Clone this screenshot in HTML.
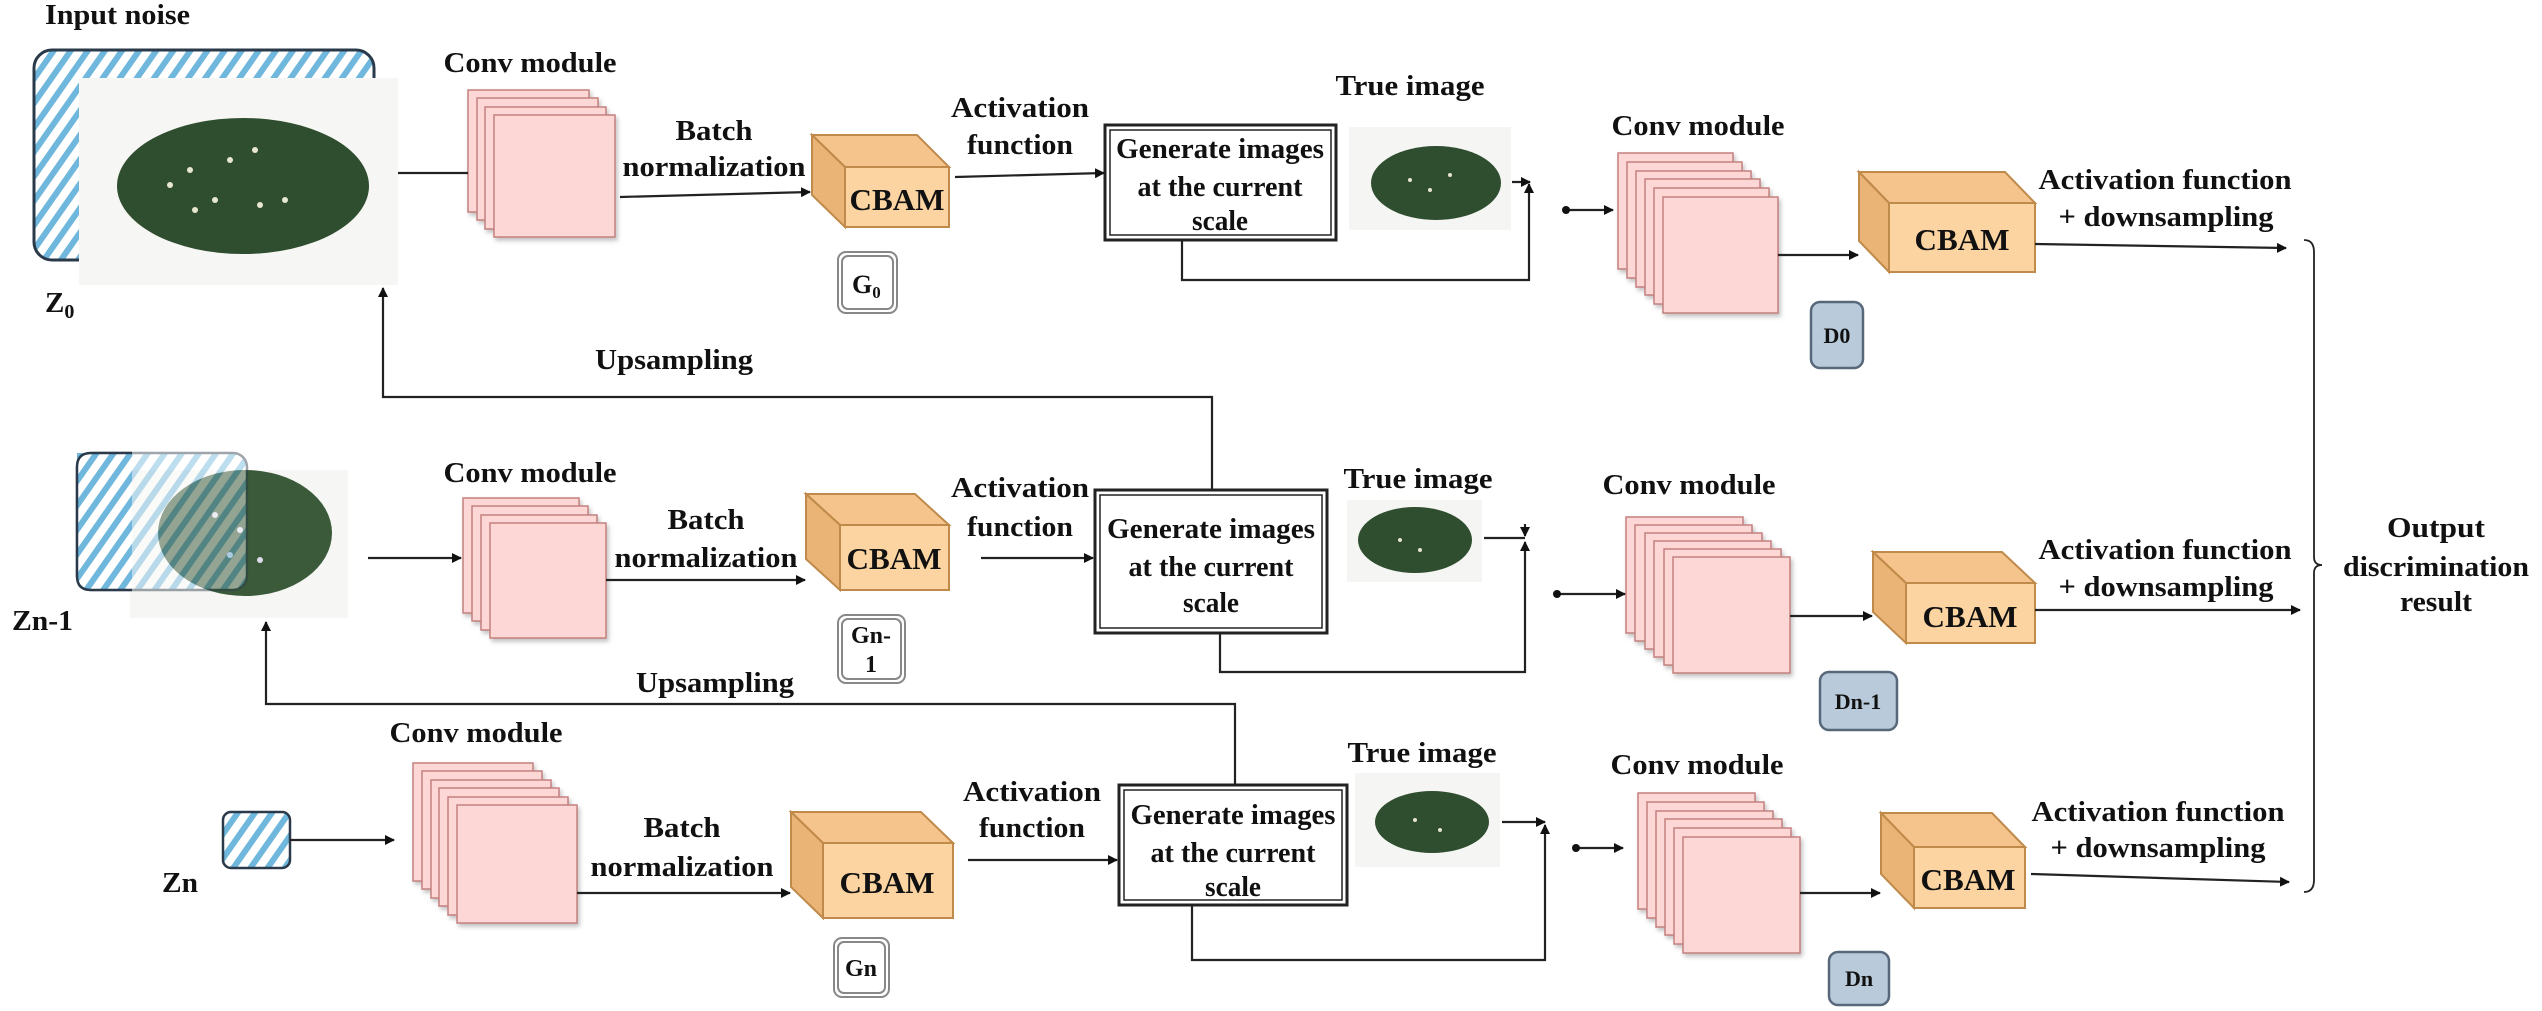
<!DOCTYPE html>
<html><head><meta charset="utf-8"><style>
html,body{margin:0;padding:0;background:#fff}
svg{display:block}
text{font-family:"Liberation Serif",serif;font-weight:bold;fill:#111}
</style></head><body>
<svg width="2542" height="1011" viewBox="0 0 2542 1011" xmlns="http://www.w3.org/2000/svg">
<defs>
<pattern id="hat" width="14" height="14" patternUnits="userSpaceOnUse" patternTransform="rotate(35)">
<rect width="14" height="14" fill="#fff"/><rect width="6" height="14" fill="#6fb7dc"/></pattern>
<marker id="ar" markerWidth="10" markerHeight="10" refX="9" refY="5" orient="auto" markerUnits="userSpaceOnUse">
<path d="M0,0 L10,5 L0,10 z" fill="#111"/></marker>
<filter id="sh"><feDropShadow dx="2" dy="3" stdDeviation="2" flood-color="#999" flood-opacity="0.6"/></filter>
</defs>

<!-- ===== Inputs ===== -->
<rect x="34" y="50" width="340" height="210" rx="18" fill="url(#hat)" stroke="#2a3a4a" stroke-width="3"/>
<rect x="79" y="78" width="319" height="207" fill="#f6f6f4"/>
<ellipse cx="243" cy="186" rx="126" ry="68" fill="#2f4d2f"/>
<g fill="#e8e8d0"><circle cx="190" cy="170" r="3"/><circle cx="230" cy="160" r="3"/><circle cx="255" cy="150" r="3"/><circle cx="215" cy="200" r="3"/><circle cx="260" cy="205" r="3"/><circle cx="285" cy="200" r="3"/><circle cx="170" cy="185" r="3"/><circle cx="195" cy="210" r="3"/></g>
<text x="45" y="24" font-size="28" textLength="145" lengthAdjust="spacingAndGlyphs">Input noise</text>
<text x="45" y="312" font-size="29">Z<tspan font-size="20" dy="6">0</tspan></text>

<rect x="130" y="470" width="218" height="148" fill="#f6f6f4"/>
<ellipse cx="245" cy="533" rx="87" ry="63" fill="#3a5a3a"/>
<g fill="#dde"><circle cx="215" cy="515" r="3"/><circle cx="240" cy="530" r="3"/><circle cx="260" cy="560" r="3"/><circle cx="230" cy="555" r="3"/></g>
<rect x="77" y="453" width="170" height="137" rx="14" fill="url(#hat)" stroke="#2a3a4a" stroke-width="2.5" opacity="0.45"/>
<rect x="77" y="453" width="55" height="137" fill="url(#hat)"/>
<path d="M132,453 L91,453 Q77,453 77,467 L77,576 Q77,590 91,590 L132,590" fill="none" stroke="#2a3a4a" stroke-width="2.5"/>
<text x="12" y="630" font-size="28" textLength="61" lengthAdjust="spacingAndGlyphs">Zn-1</text>

<rect x="223" y="812" width="67" height="56" rx="8" fill="url(#hat)" stroke="#2a3a4a" stroke-width="2.5"/>
<text x="162" y="892" font-size="28" textLength="36" lengthAdjust="spacingAndGlyphs">Zn</text>

<!-- ===== stacks ===== -->
<g fill="#fcd7d5" stroke="#c4807e" stroke-width="1.5" filter="url(#sh)">
<rect x="468" y="90" width="121" height="122"/><rect x="477" y="98" width="121" height="122"/><rect x="485" y="107" width="121" height="122"/><rect x="494" y="115" width="121" height="122"/>
<rect x="463" y="498" width="116" height="115"/><rect x="472" y="506" width="116" height="115"/><rect x="481" y="515" width="116" height="115"/><rect x="490" y="523" width="116" height="115"/>
<rect x="413" y="763" width="120" height="118"/><rect x="422" y="771" width="120" height="118"/><rect x="431" y="780" width="120" height="118"/><rect x="439" y="788" width="120" height="118"/><rect x="448" y="797" width="120" height="118"/><rect x="457" y="805" width="120" height="118"/>
<rect x="1618" y="153" width="115" height="116"/><rect x="1627" y="162" width="115" height="116"/><rect x="1636" y="171" width="115" height="116"/><rect x="1645" y="179" width="115" height="116"/><rect x="1654" y="188" width="115" height="116"/><rect x="1663" y="197" width="115" height="116"/>
<rect x="1626" y="517" width="117" height="116"/><rect x="1635" y="525" width="117" height="116"/><rect x="1645" y="533" width="117" height="116"/><rect x="1654" y="541" width="117" height="116"/><rect x="1664" y="549" width="117" height="116"/><rect x="1673" y="557" width="117" height="116"/>
<rect x="1638" y="793" width="117" height="116"/><rect x="1647" y="802" width="117" height="116"/><rect x="1656" y="811" width="117" height="116"/><rect x="1665" y="819" width="117" height="116"/><rect x="1674" y="828" width="117" height="116"/><rect x="1683" y="837" width="117" height="116"/>
</g>

<!-- ===== CBAM cubes ===== -->
<g stroke="#c08a4a" stroke-width="2">
<polygon points="812,135 917,135 949,167 845,167" fill="#f4c48c"/><polygon points="812,135 845,167 845,227 812,195" fill="#e9b476"/><rect x="845" y="167" width="104" height="60" fill="#fbd4a2"/>
<polygon points="806,494 915,494 949,525 840,525" fill="#f4c48c"/><polygon points="806,494 840,525 840,590 806,559" fill="#e9b476"/><rect x="840" y="525" width="109" height="65" fill="#fbd4a2"/>
<polygon points="791,812 921,812 953,843 823,843" fill="#f4c48c"/><polygon points="791,812 823,843 823,918 791,887" fill="#e9b476"/><rect x="823" y="843" width="130" height="75" fill="#fbd4a2"/>
<polygon points="1859,172 2005,172 2035,203 1889,203" fill="#f4c48c"/><polygon points="1859,172 1889,203 1889,272 1859,241" fill="#e9b476"/><rect x="1889" y="203" width="146" height="69" fill="#fbd4a2"/>
<polygon points="1873,552 2002,552 2035,583 1906,583" fill="#f4c48c"/><polygon points="1873,552 1906,583 1906,643 1873,612" fill="#e9b476"/><rect x="1906" y="583" width="129" height="60" fill="#fbd4a2"/>
<polygon points="1881,813 1992,813 2025,847 1914,847" fill="#f4c48c"/><polygon points="1881,813 1914,847 1914,908 1881,874" fill="#e9b476"/><rect x="1914" y="847" width="111" height="61" fill="#fbd4a2"/>
</g>
<g font-size="31" text-anchor="middle" lengthAdjust="spacingAndGlyphs">
<text x="897" y="210" textLength="95" lengthAdjust="spacingAndGlyphs">CBAM</text><text x="894" y="569" textLength="95" lengthAdjust="spacingAndGlyphs">CBAM</text><text x="887" y="893" textLength="95" lengthAdjust="spacingAndGlyphs">CBAM</text>
<text x="1962" y="250" textLength="95" lengthAdjust="spacingAndGlyphs">CBAM</text><text x="1970" y="627" textLength="95" lengthAdjust="spacingAndGlyphs">CBAM</text><text x="1968" y="890" textLength="95" lengthAdjust="spacingAndGlyphs">CBAM</text>
</g>

<!-- ===== G / D labels ===== -->
<g fill="#fff" stroke="#888" stroke-width="2">
<rect x="838" y="252" width="59" height="61" rx="8"/><rect x="842" y="256" width="51" height="53" rx="6"/>
<rect x="838" y="615" width="67" height="68" rx="8"/><rect x="842" y="619" width="59" height="60" rx="6"/>
<rect x="834" y="938" width="55" height="59" rx="8"/><rect x="838" y="942" width="47" height="51" rx="6"/>
</g>
<text x="852" y="293" font-size="26" font-weight="normal">G<tspan font-size="17" dy="5">0</tspan></text>
<text x="871" y="643" font-size="24" font-weight="normal" text-anchor="middle">Gn-</text>
<text x="871" y="672" font-size="24" font-weight="normal" text-anchor="middle">1</text>
<text x="861" y="976" font-size="24" font-weight="normal" text-anchor="middle">Gn</text>
<g fill="#b9cbdb" stroke="#56687a" stroke-width="2.5">
<rect x="1811" y="302" width="52" height="66" rx="9"/><rect x="1820" y="672" width="77" height="58" rx="9"/><rect x="1829" y="952" width="60" height="53" rx="9"/>
</g>
<g font-size="22" text-anchor="middle"><text x="1837" y="343">D0</text><text x="1858" y="709">Dn-1</text><text x="1859" y="986">Dn</text></g>

<!-- ===== Generate boxes ===== -->
<g fill="#fff" stroke="#222">
<rect x="1105" y="125" width="231" height="115" stroke-width="3"/><rect x="1110" y="130" width="221" height="105" stroke-width="1.5"/>
<rect x="1095" y="490" width="232" height="143" stroke-width="3"/><rect x="1100" y="495" width="222" height="133" stroke-width="1.5"/>
<rect x="1119" y="785" width="228" height="120" stroke-width="3"/><rect x="1124" y="790" width="218" height="110" stroke-width="1.5"/>
</g>
<g font-size="28" text-anchor="middle">
<text x="1220" y="158" textLength="208" lengthAdjust="spacingAndGlyphs">Generate images</text><text x="1220" y="196" textLength="165" lengthAdjust="spacingAndGlyphs">at the current</text><text x="1220" y="230" textLength="56" lengthAdjust="spacingAndGlyphs">scale</text>
<text x="1211" y="538" textLength="208" lengthAdjust="spacingAndGlyphs">Generate images</text><text x="1211" y="576" textLength="165" lengthAdjust="spacingAndGlyphs">at the current</text><text x="1211" y="612" textLength="56" lengthAdjust="spacingAndGlyphs">scale</text>
<text x="1233" y="824" textLength="205" lengthAdjust="spacingAndGlyphs">Generate images</text><text x="1233" y="862" textLength="165" lengthAdjust="spacingAndGlyphs">at the current</text><text x="1233" y="896" textLength="56" lengthAdjust="spacingAndGlyphs">scale</text>
</g>

<!-- ===== True images ===== -->
<rect x="1349" y="127" width="162" height="103" fill="#f5f5f3"/><ellipse cx="1436" cy="183" rx="65" ry="37" fill="#2f4d2f"/>
<rect x="1347" y="500" width="135" height="82" fill="#f5f5f3"/><ellipse cx="1415" cy="540" rx="57" ry="33" fill="#2f4d2f"/>
<rect x="1355" y="773" width="145" height="94" fill="#f5f5f3"/><ellipse cx="1432" cy="822" rx="57" ry="31" fill="#2f4d2f"/>
<g fill="#e6e6d0"><circle cx="1410" cy="180" r="2"/><circle cx="1430" cy="190" r="2"/><circle cx="1450" cy="175" r="2"/><circle cx="1400" cy="540" r="2"/><circle cx="1420" cy="550" r="2"/><circle cx="1415" cy="820" r="2"/><circle cx="1440" cy="830" r="2"/></g>
<g font-size="29" text-anchor="middle">
<text x="1410" y="95" textLength="149" lengthAdjust="spacingAndGlyphs">True image</text><text x="1418" y="488" textLength="149" lengthAdjust="spacingAndGlyphs">True image</text><text x="1422" y="762" textLength="149" lengthAdjust="spacingAndGlyphs">True image</text>
</g>

<!-- ===== Text labels ===== -->
<g font-size="29" text-anchor="middle">
<text x="530" y="72" textLength="173" lengthAdjust="spacingAndGlyphs">Conv module</text><text x="530" y="482" textLength="173" lengthAdjust="spacingAndGlyphs">Conv module</text><text x="476" y="742" textLength="173" lengthAdjust="spacingAndGlyphs">Conv module</text>
<text x="1698" y="135" textLength="173" lengthAdjust="spacingAndGlyphs">Conv module</text><text x="1689" y="494" textLength="173" lengthAdjust="spacingAndGlyphs">Conv module</text><text x="1697" y="774" textLength="173" lengthAdjust="spacingAndGlyphs">Conv module</text>
<text x="714" y="140" textLength="77" lengthAdjust="spacingAndGlyphs">Batch</text><text x="714" y="176" textLength="183" lengthAdjust="spacingAndGlyphs">normalization</text>
<text x="706" y="529" textLength="77" lengthAdjust="spacingAndGlyphs">Batch</text><text x="706" y="567" textLength="183" lengthAdjust="spacingAndGlyphs">normalization</text>
<text x="682" y="837" textLength="77" lengthAdjust="spacingAndGlyphs">Batch</text><text x="682" y="876" textLength="183" lengthAdjust="spacingAndGlyphs">normalization</text>
<text x="1020" y="117" textLength="138" lengthAdjust="spacingAndGlyphs">Activation</text><text x="1020" y="154" textLength="106" lengthAdjust="spacingAndGlyphs">function</text>
<text x="1020" y="497" textLength="138" lengthAdjust="spacingAndGlyphs">Activation</text><text x="1020" y="536" textLength="106" lengthAdjust="spacingAndGlyphs">function</text>
<text x="1032" y="801" textLength="138" lengthAdjust="spacingAndGlyphs">Activation</text><text x="1032" y="837" textLength="106" lengthAdjust="spacingAndGlyphs">function</text>
<text x="2165" y="189" textLength="253" lengthAdjust="spacingAndGlyphs">Activation function</text><text x="2166" y="226" textLength="215" lengthAdjust="spacingAndGlyphs">+ downsampling</text>
<text x="2165" y="559" textLength="253" lengthAdjust="spacingAndGlyphs">Activation function</text><text x="2166" y="596" textLength="215" lengthAdjust="spacingAndGlyphs">+ downsampling</text>
<text x="2158" y="821" textLength="253" lengthAdjust="spacingAndGlyphs">Activation function</text><text x="2158" y="857" textLength="215" lengthAdjust="spacingAndGlyphs">+ downsampling</text>
<text x="674" y="369" textLength="158" lengthAdjust="spacingAndGlyphs">Upsampling</text><text x="715" y="692" textLength="158" lengthAdjust="spacingAndGlyphs">Upsampling</text>
<text x="2436" y="537" textLength="98" lengthAdjust="spacingAndGlyphs">Output</text><text x="2436" y="576" textLength="186" lengthAdjust="spacingAndGlyphs">discrimination</text><text x="2436" y="611" textLength="72" lengthAdjust="spacingAndGlyphs">result</text>
</g>

<!-- ===== connectors ===== -->
<g stroke="#222" stroke-width="2.2" fill="none">
<line x1="398" y1="173" x2="468" y2="173"/>
<line x1="620" y1="197" x2="810" y2="192" marker-end="url(#ar)"/>
<line x1="955" y1="177" x2="1104" y2="173" marker-end="url(#ar)"/>
<line x1="368" y1="558" x2="461" y2="558" marker-end="url(#ar)"/>
<line x1="606" y1="580" x2="805" y2="580" marker-end="url(#ar)"/>
<line x1="981" y1="558" x2="1093" y2="558" marker-end="url(#ar)"/>
<line x1="290" y1="840" x2="394" y2="840" marker-end="url(#ar)"/>
<line x1="577" y1="893" x2="790" y2="893" marker-end="url(#ar)"/>
<line x1="968" y1="860" x2="1117" y2="860" marker-end="url(#ar)"/>
<polyline points="1212,490 1212,397 383,397 383,288" marker-end="url(#ar)"/>
<polyline points="1235,785 1235,704 266,704 266,622" marker-end="url(#ar)"/>
<polyline points="1182,240 1182,280 1529,280 1529,184" marker-end="url(#ar)"/>
<line x1="1512" y1="182" x2="1530" y2="182" marker-end="url(#ar)"/>
<polyline points="1220,633 1220,672 1525,672 1525,542" marker-end="url(#ar)"/>
<line x1="1484" y1="538" x2="1525" y2="538"/><line x1="1525" y1="524" x2="1525" y2="536" marker-end="url(#ar)"/>
<polyline points="1192,905 1192,960 1545,960 1545,825" marker-end="url(#ar)"/>
<line x1="1502" y1="822" x2="1545" y2="822" marker-end="url(#ar)"/>
<line x1="1566" y1="210" x2="1613" y2="210" marker-end="url(#ar)"/>
<line x1="1557" y1="594" x2="1625" y2="594" marker-end="url(#ar)"/>
<line x1="1576" y1="848" x2="1623" y2="848" marker-end="url(#ar)"/>
<line x1="1778" y1="255" x2="1858" y2="255" marker-end="url(#ar)"/>
<line x1="1790" y1="616" x2="1872" y2="616" marker-end="url(#ar)"/>
<line x1="1800" y1="893" x2="1880" y2="893" marker-end="url(#ar)"/>
<line x1="2035" y1="244" x2="2286" y2="248" marker-end="url(#ar)"/>
<line x1="2035" y1="610" x2="2300" y2="610" marker-end="url(#ar)"/>
<line x1="2031" y1="874" x2="2289" y2="882" marker-end="url(#ar)"/>
<path d="M2304,240 Q2314,240 2314,252 L2314,557 Q2314,565 2322,565 Q2314,565 2314,573 L2314,880 Q2314,892 2304,892" stroke-width="1.8"/>
</g>
<g fill="#111"><circle cx="1566" cy="210" r="4"/><circle cx="1557" cy="594" r="4"/><circle cx="1576" cy="848" r="4"/></g>
</svg>
</body></html>
